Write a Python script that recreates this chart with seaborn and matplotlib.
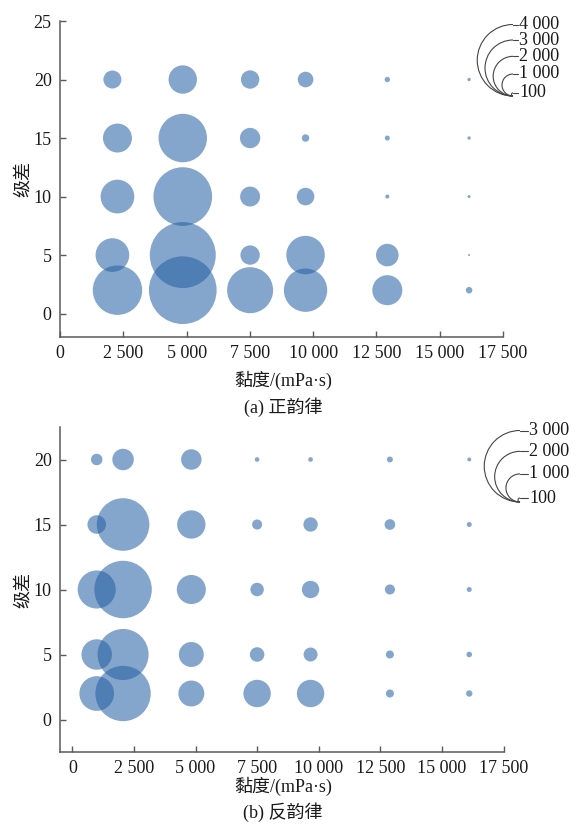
import pandas as pd
import seaborn as sns
from matplotlib import pyplot as plt
from matplotlib.patches import Arc
from matplotlib.ticker import FuncFormatter

# (a) 正韵律 : rows of 级差, viscosity of each bubble, bubble value
a_grade = [20, 15, 10, 5, 2]
a_visc = [
    [2070, 4850, 7510, 9700, 12930, 16160],
    [2270, 4850, 7510, 9700, 12930, 16160],
    [2270, 4850, 7510, 9700, 12930, 16160],
    [2070, 4850, 7510, 9700, 12930, 16160],
    [2270, 4850, 7510, 9700, 12930, 16160],
]
a_value = [
    [790, 1350, 810, 670, 190, 110],
    [1380, 2530, 910, 280, 175, 110],
    [1650, 3170, 890, 770, 135, 95],
    [1650, 3640, 860, 1930, 1030, 60],
    [2590, 3750, 2380, 2220, 1440, 240],
]
a_legend = [4000, 3000, 2000, 1000, 100]

# (b) 反韵律
b_grade = [20, 15, 10, 5, 2]
b_visc = [990, 2060, 4830, 7500, 9670, 12890, 16110]
b_value = [
    [350, 730, 690, 120, 120, 160, 100],
    [615, 2090, 1010, 300, 455, 320, 130],
    [1430, 2320, 1040, 420, 570, 300, 130],
    [1100, 2020, 870, 460, 440, 230, 150],
    [1280, 2220, 910, 970, 970, 230, 175],
]
b_legend = [3000, 2000, 1000, 100]

DPI = 100
BLUE = "#215da2"
GREY = "#5a5a5a"
TXT = "#1a1a1a"
R_MAX = 35.75  # px radius of the largest legend bubble
POW = 0.85


def radius(v, vmax):
    return R_MAX * (v / vmax) ** POW


def area(v, vmax):
    d = 2 * radius(v, vmax) * 72 / DPI
    return d * d


def to_frame(grades, visc, values):
    rows = []
    for i, g in enumerate(grades):
        xs = visc[i] if isinstance(visc[i], list) else visc
        for x, v in zip(xs, values[i]):
            rows.append({"visc": x, "grade": g, "value": v})
    return pd.DataFrame(rows)


df_a = to_frame(a_grade, a_visc, a_value)
df_b = to_frame(b_grade, b_visc, b_value)

sns.set_style("ticks")
plt.rcParams["font.family"] = ["Liberation Serif", "Noto Sans CJK SC"]
plt.rcParams["axes.unicode_minus"] = False

fig = plt.figure(figsize=(582 / DPI, 826 / DPI), dpi=DPI)
W, H = 582, 826


def box(l, t, r, b):
    return [l / W, 1 - b / H, (r - l) / W, (b - t) / H]


ax1 = fig.add_axes(box(60, 21, 503, 337))
ax2 = fig.add_axes(box(60, 427, 503.5, 752))

fmt = FuncFormatter(lambda v, p: f"{int(v):,}".replace(",", " "))

panels = [
    (ax1, df_a, a_legend, (-2, 25), range(0, 26, 5), (0, 17500), "(a) 正韵律", 380, 407),
    (ax2, df_b, b_legend, (-2.5, 22.5), range(0, 21, 5), (-500, 17500), "(b) 反韵律", 786, 812),
]
for ax, df, leg, ylim, yt, xlim, cap, lab_y, cap_y in panels:
    vmax = max(leg)
    sizes = {v: area(v, vmax) for v in df["value"].unique()}
    sns.scatterplot(data=df, x="visc", y="grade", size="value", sizes=sizes,
                    color=BLUE, alpha=0.55, linewidth=0, legend=False, ax=ax)
    ax.set_xlim(*xlim)
    ax.set_ylim(*ylim)
    ax.set_xticks(range(0, 17501, 2500))
    ax.set_yticks(list(yt))
    ax.xaxis.set_major_formatter(fmt)
    ax.tick_params(direction="in", length=4, width=1, color=GREY,
                   labelsize=13, labelcolor=TXT, pad=6)
    for s in ["top", "right"]:
        ax.spines[s].set_visible(False)
    for s in ["left", "bottom"]:
        ax.spines[s].set_color(GREY)
        ax.spines[s].set_linewidth(1.1)
    ax.set_xlabel("")
    ax.set_ylabel("级差", fontsize=13, color=TXT, labelpad=1)
    fig.text(283 / W, 1 - lab_y / H, "黏度/(mPa·s)", fontsize=13, color=TXT,
             ha="center", va="center")
    fig.text(283 / W, 1 - cap_y / H, cap, fontsize=13, color=TXT,
             ha="center", va="center")

# bubble size legends drawn in pixel coordinates
ov = fig.add_axes([0, 0, 1, 1], zorder=5)
ov.set_xlim(0, W)
ov.set_ylim(H, 0)
ov.axis("off")
ov.patch.set_alpha(0)
for leg, (x0, y0), lx in [(a_legend, (513, 96), 519), (b_legend, (520, 502), 529)]:
    vmax = max(leg)
    for v in leg:
        r = radius(v, vmax)
        ov.add_patch(Arc((x0, y0 - r), 2 * r, 2 * r, theta1=90, theta2=270,
                         color="#444444", lw=0.8))
        ov.plot([x0, lx - 1], [y0 - 2 * r, y0 - 2 * r], color="#444444", lw=0.8)
        ov.text(lx, y0 - 2 * r, f"{v:,}".replace(",", " "), fontsize=13,
                color=TXT, va="center", ha="left")

fig.savefig("out.png", dpi=DPI)
